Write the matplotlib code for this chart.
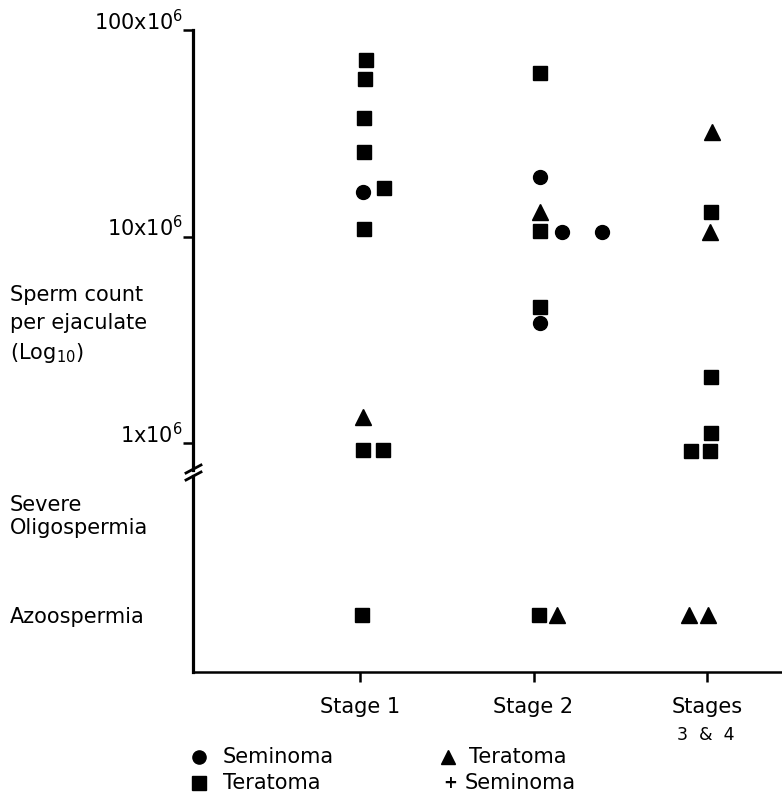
import matplotlib
matplotlib.use("Agg")
import matplotlib.pyplot as plt
from matplotlib.lines import Line2D
from matplotlib.ticker import NullLocator

plt.rcParams['font.family'] = ['DejaVu Sans']
plt.rcParams['mathtext.default'] = 'regular'

# ---- data -------------------------------------------------------------
stage_labels = ["Stage 1", "Stage 2", "Stages"]
stage_sublabel = "3  &  4"
decade_ticks = [1e6, 1e7, 1e8]
decade_labels = ["1x10$^6$", "10x10$^6$", "100x10$^6$"]
low_categories = ["Azoospermia", "Severe\nOligospermia"]

# sperm count per ejaculate, by histology and stage
seminoma_stage = [1, 2, 2, 2, 2]
seminoma_count = [16.4e6, 19.5e6, 10.5e6, 10.5e6, 3.8e6]
seminoma_dx = [0.017, 0.04, 0.162, 0.392, 0.04]

teratoma_stage = [1, 1, 1, 1, 1, 1, 1, 1, 2, 2, 2, 3, 3, 3, 3, 3]
teratoma_count = [71.5e6, 57.8e6, 37.4e6, 25.6e6, 17.1e6, 10.9e6, 0.925e6, 0.925e6,
                  61.8e6, 10.6e6, 4.57e6,
                  13.2e6, 2.09e6, 1.12e6, 0.914e6, 0.914e6]
teratoma_dx = [0.035, 0.029, 0.025, 0.025, 0.138, 0.025, 0.017, 0.133,
               0.04, 0.035, 0.04,
               0.023, 0.023, 0.023, -0.09, 0.017]

mixed_stage = [1, 2, 3, 3]
mixed_count = [1.34e6, 13.2e6, 32e6, 10.5e6]
mixed_dx = [0.017, 0.035, 0.03, 0.017]

# azoospermic patients
azoo_teratoma_stage = [1, 2]
azoo_teratoma_dx = [0.012, 0.03]
azoo_mixed_stage = [2, 3, 3]
azoo_mixed_dx = [0.133, -0.104, 0.006]

# ---- figure -----------------------------------------------------------
W, H = 782, 800
fig = plt.figure(figsize=(W / 100, H / 100), dpi=100)


def fx(px):
    return px / W


def fy(py):
    return 1 - py / H


left = fx(193)
width = 1 - left
ax = fig.add_axes([left, fy(470), width, fy(30) - fy(470)])
ax2 = fig.add_axes([left, fy(672), width, fy(476) - fy(672)])

xlim = (0.036, 3.433)
sq = dict(marker='s', ms=10, color='black', ls='none', clip_on=False)
ci = dict(marker='o', ms=10, color='black', ls='none', clip_on=False)
tr = dict(marker='^', ms=11, color='black', ls='none', clip_on=False)

# upper (log) panel
ax.set_yscale('log')
ax.set_ylim(10 ** (6 - 27 / 206.5), 1e8)
ax.set_xlim(*xlim)
ax.plot([s + d for s, d in zip(seminoma_stage, seminoma_dx)], seminoma_count, **ci)
ax.plot([s + d for s, d in zip(teratoma_stage, teratoma_dx)], teratoma_count, **sq)
ax.plot([s + d for s, d in zip(mixed_stage, mixed_dx)], mixed_count, **tr)

for sp in ['top', 'right', 'bottom']:
    ax.spines[sp].set_visible(False)
ax.spines['left'].set_linewidth(2.3)
ax.set_xticks([])
ax.set_yticks(decade_ticks)
ax.set_yticklabels(decade_labels, fontsize=15)
ax.yaxis.set_minor_locator(NullLocator())
ax.tick_params(axis='y', length=7, width=1.8, pad=0)
for lab in ax.get_yticklabels():
    lab.set_va('baseline')

ax.set_ylabel("Sperm count\nper ejaculate\n(Log$_{10}$)", rotation=0,
              ha='left', va='center', fontsize=15, linespacing=1.45)
ax.yaxis.set_label_coords(fx(10 - 193) / width, (fy(325) - fy(470)) / (fy(30) - fy(470)))

# lower (categorical) panel
ax2.set_xlim(*xlim)
ax2.set_ylim(-0.559, 1.363)
ax2.plot([s + d for s, d in zip(azoo_teratoma_stage, azoo_teratoma_dx)],
         [0] * len(azoo_teratoma_stage), **sq)
ax2.plot([s + d for s, d in zip(azoo_mixed_stage, azoo_mixed_dx)],
         [0] * len(azoo_mixed_stage), **tr)
for sp in ['top', 'right']:
    ax2.spines[sp].set_visible(False)
ax2.spines['left'].set_linewidth(2.3)
ax2.spines['bottom'].set_linewidth(1.8)
ax2.set_yticks(range(len(low_categories)))
ax2.set_yticklabels(low_categories, fontsize=15)
ax2.tick_params(axis='y', length=0, pad=(193 - 10) * 0.72)
for lab in ax2.get_yticklabels():
    lab.set_ha('left')
    lab.set_multialignment('left')
ax2.set_xticks([1, 2, 3])
ax2.set_xticklabels(stage_labels, fontsize=15)
ax2.tick_params(axis='x', length=7, width=1.8, pad=11)
ax2.text(3 - 0.005, -(735 - 672) / (672 - 476), stage_sublabel,
         transform=ax2.get_xaxis_transform(),
         ha='center', va='center', fontsize=12.5)

# axis break marks
for y0 in (473, 480):
    fig.add_artist(Line2D([fx(186), fx(201)], [fy(y0), fy(y0 - 8)],
                          color='black', lw=2.0, transform=fig.transFigure))

# key
fig.add_artist(Line2D([fx(199)], [fy(757)], marker='o', ms=9.5, color='black',
                      transform=fig.transFigure))
fig.add_artist(Line2D([fx(199)], [fy(783)], marker='s', ms=9.5, color='black',
                      transform=fig.transFigure))
fig.add_artist(Line2D([fx(448)], [fy(757)], marker='^', ms=10.5, color='black',
                      transform=fig.transFigure))
fig.text(fx(223), fy(757), "Seminoma", fontsize=15, va='center', ha='left')
fig.text(fx(223), fy(783), "Teratoma", fontsize=15, va='center', ha='left')
fig.text(fx(469), fy(757), "Teratoma", fontsize=15, va='center', ha='left')
fig.text(fx(450), fy(783), "+", fontsize=12, fontweight='bold', va='center', ha='center')
fig.text(fx(465), fy(783), "Seminoma", fontsize=15, va='center', ha='left')

fig.savefig("out.png", dpi=100)
